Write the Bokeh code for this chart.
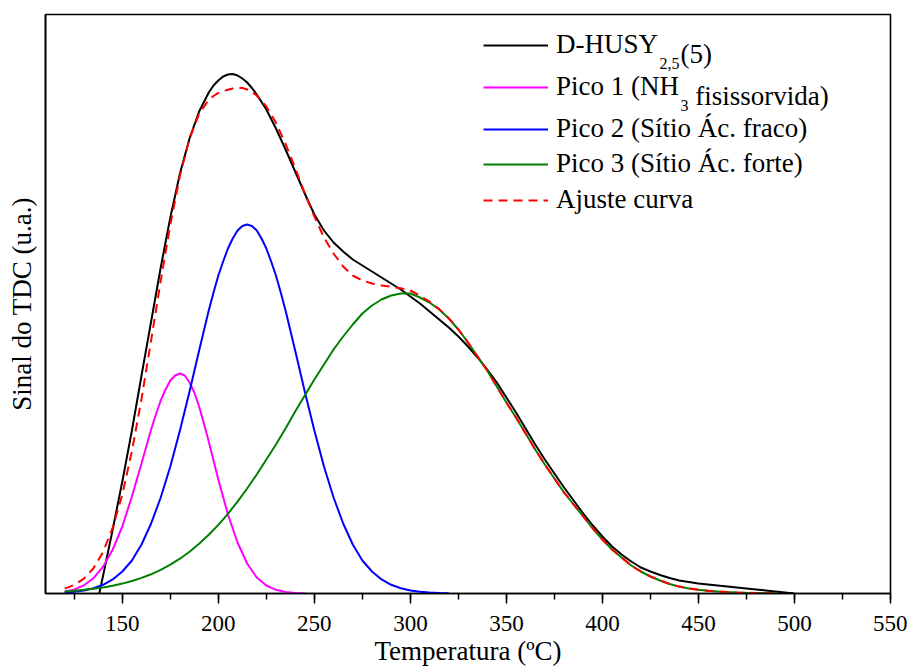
from bokeh.plotting import figure
from bokeh.models import Range1d, SingleIntervalTicker, FixedTicker, Legend, LegendItem, Label
from bokeh.embed import file_html
from bokeh.resources import INLINE

# ---------------- data ----------------
temp_exp = [138, 140, 145, 150, 155, 160, 165, 170, 175, 180, 185, 190, 195, 197.5, 200, 202.5,
            205, 207.5, 210, 212.5, 215, 217.5, 220, 225, 230, 235, 240, 245, 250, 255, 260, 265,
            270, 275, 280, 285, 290, 295, 300, 305, 310, 315, 320, 325, 330, 335, 340, 345,
            350, 355, 360, 365, 370, 375, 380, 385, 390, 395, 400, 405, 410, 415, 420, 425,
            430, 435, 440, 445, 450, 455, 460, 465, 470, 475, 480, 485, 490, 495, 500]
signal_exp = [0, 18, 64, 112, 163, 218, 272, 326, 376, 420, 455, 482, 501, 508, 513, 517,
              519, 519.5, 518, 515, 511, 505.5, 499, 484, 465, 444, 422, 400, 379, 363, 351, 342,
              334, 328, 322, 316, 310, 304, 297, 290, 282, 274, 266, 257, 247, 236, 224, 211,
              196, 181, 165, 149, 134, 120, 106, 93, 80, 68, 57, 47, 39, 32, 26, 22,
              18.5, 15.5, 13, 11.5, 10, 9, 8, 7, 6, 5, 4, 3, 2, 1, 0]

temp_p1 = [120, 125, 130, 135, 140, 145, 150, 155, 160, 162.5, 165, 167.5, 170, 172.5, 175, 177.5,
           180, 182.5, 185, 187.5, 190, 192.5, 195, 197.5, 200, 205, 210, 215, 220, 225, 230, 235,
           240, 245]
signal_p1 = [1.9, 4.1, 8.2, 15.3, 26.8, 44, 67, 97, 130, 147, 164, 179, 193, 204, 213, 218,
             220, 218, 211, 201, 187, 170, 152, 133, 114, 79, 51, 30, 16, 8, 3.7, 1.6,
             0.6, 0.2]

temp_p2 = [120, 125, 130, 135, 140, 145, 150, 155, 160, 165, 170, 175, 180, 185, 190, 195,
           197.5, 200, 202.5, 205, 207.5, 210, 212.5, 215, 217.5, 220, 222.5, 225, 227.5, 230, 232.5, 235,
           240, 245, 250, 255, 260, 265, 270, 275, 280, 285, 290, 295, 300, 305, 310, 315, 320]
signal_p2 = [0.9, 1.7, 3.0, 5.2, 8.7, 14.1, 22, 33, 49, 70, 96, 127, 163, 202, 243, 283,
             301, 318, 332, 345, 355, 363, 367.5, 369, 367.5, 363, 355, 345, 332, 318, 301, 283,
             243, 202, 163, 127, 96, 70, 49, 33, 22, 14.1, 8.7, 5.2, 3.0, 1.7, 0.9, 0.4, 0.2]

temp_p3 = [120, 125, 130, 135, 140, 145, 150, 155, 160, 165, 170, 175, 180, 185, 190, 195,
           200, 205, 210, 215, 220, 225, 230, 235, 240, 245, 250, 255, 260, 265, 270, 275,
           280, 285, 290, 295, 300, 305, 310, 315, 320, 325, 330, 335, 340, 345, 350, 355,
           360, 365, 370, 375, 380, 385, 390, 395, 400, 405, 410, 415, 420, 425, 430, 435,
           440, 445, 450, 455, 460, 465, 470, 475, 480, 485, 490]
signal_p3 = [2.1, 2.8, 3.7, 4.7, 6.1, 7.8, 9.9, 12.5, 15.6, 19.2, 23.7, 28.8, 34.8, 41.8, 49.7, 58.7,
             68.6, 79.7, 91.9, 105, 119, 134, 149, 165, 182, 198, 214, 229, 244, 257, 269, 280,
             288, 294, 298, 300, 300, 296, 291, 284, 275, 264, 251, 237, 223, 207, 191, 176,
             160, 144, 129, 115, 101, 89, 77, 65, 54, 44, 36, 28, 22, 17, 13, 9.5,
             6.9, 5.1, 3.7, 2.7, 2.0, 1.4, 1.0, 0.7, 0.5, 0.3, 0.2]

temp_fit = [120, 125, 130, 135, 140, 145, 150, 155, 160, 165, 170, 175, 180, 185, 190, 195,
            197.5, 200, 202.5, 205, 207.5, 210, 212.5, 215, 217.5, 220, 225, 230, 235, 240, 245, 250,
            255, 260, 265, 270, 275, 280, 285, 290, 295, 300, 305, 310, 315, 320, 325, 330,
            335, 340, 345, 350, 355, 360, 365, 370, 375, 380, 385, 390, 395, 400, 405, 410,
            415, 420, 425, 430, 435, 440, 445, 450, 455, 460, 465, 470, 475, 480, 485, 490]
signal_fit = [4.9, 8.6, 14.9, 25.2, 41.6, 65.9, 98.9, 142.5, 194.6, 253.2, 312.7, 368.8, 417.8, 454.8, 479.7, 493.7,
              497.5, 500.6, 502.5, 503.7, 505, 505.9, 505.5, 504, 501.5, 498, 487, 470.7, 449.6, 425.6, 400.2, 377,
              356, 340, 327, 318, 313, 310, 308, 306.7, 305.2, 303, 297.7, 291.9, 284.4, 275.2, 264, 251,
              237, 223, 207, 191, 176, 160, 144, 129, 115, 101, 89, 77, 65, 54, 44, 36,
              28, 22, 17, 13, 9.5, 6.9, 5.1, 3.7, 2.7, 2.0, 1.4, 1.0, 0.7, 0.5, 0.3, 0.2]

x_ticks_interval = 50
x_label = "Temperatura (ºC)"
y_label = "Sinal do TDC (u.a.)"
series_names = ["D-HUSY", "Pico 1 (NH", "Pico 2 (Sítio Ác. fraco)", "Pico 3 (Sítio Ác. forte)", "Ajuste curva"]

# ---------------- layout ----------------
FONT = "Liberation Serif"
X0, X1, Y0, Y1 = 110, 550, 0, 579
ORIGIN_X, ORIGIN_Y = 1, 0          # where the figure lands in the screenshot
B_LEFT, B_RIGHT, B_TOP, B_BOTTOM = 45, 17, 14, 79
FW, FH = 845, 579
W, H = B_LEFT + FW + B_RIGHT, B_TOP + FH + B_BOTTOM

p = figure(width=W, height=H, x_range=Range1d(X0, X1), y_range=Range1d(Y0, Y1),
           output_backend="svg", toolbar_location=None,
           min_border_left=B_LEFT, min_border_right=B_RIGHT, min_border_top=B_TOP, min_border_bottom=B_BOTTOM,
           background_fill_color="white", border_fill_color="white")
p.xgrid.visible = False
p.ygrid.visible = False
p.outline_line_color = "black"
p.outline_line_width = 1.6
p.outline_line_alpha = 1.0

xa = p.xaxis[0]
xa.ticker = SingleIntervalTicker(interval=x_ticks_interval, num_minor_ticks=2)
xa.axis_label = x_label
xa.axis_label_text_font = FONT
xa.axis_label_text_font_size = "27px"
xa.axis_label_text_font_style = "normal"
xa.axis_label_text_color = "black"
xa.axis_label_standoff = 2
xa.major_label_text_font = FONT
xa.major_label_text_font_size = "23px"
xa.major_label_text_color = "black"
xa.major_label_standoff = 12
xa.major_tick_out = 10
xa.major_tick_in = 0
xa.minor_tick_out = 6
xa.minor_tick_in = 0
xa.axis_line_width = 1.6
xa.major_tick_line_width = 1.5
xa.minor_tick_line_width = 1.5
xa.axis_line_color = "black"
xa.major_tick_line_color = "black"
xa.minor_tick_line_color = "black"

ya = p.yaxis[0]
ya.ticker = FixedTicker(ticks=[])
ya.axis_label = y_label
ya.axis_label_text_font = FONT
ya.axis_label_text_font_size = "27px"
ya.axis_label_text_font_style = "normal"
ya.axis_label_text_color = "black"
ya.axis_label_standoff = 9
ya.axis_line_width = 1.6
ya.axis_line_color = "black"
ya.major_tick_line_color = None
ya.minor_tick_line_color = None

r_exp = p.line(temp_exp, signal_exp, line_color="black", line_width=2)
r_p1 = p.line(temp_p1, signal_p1, line_color="#FF00FF", line_width=2)
r_p2 = p.line(temp_p2, signal_p2, line_color="#0000FF", line_width=2)
r_p3 = p.line(temp_p3, signal_p3, line_color="#008000", line_width=2)
r_fit = p.line(temp_fit, signal_fit, line_color="#FF0000", line_width=2, line_dash="9 6")

# ---------------- legend (one row per Legend, positioned in frame pixels) ----------------
frame_left_page = ORIGIN_X + B_LEFT
frame_bottom_page = ORIGIN_Y + B_TOP + FH
row_centers_page = [45, 87, 129, 164, 200]
glyph_w, standoff, row_h = 65, 8, 30
legend_x = 484 - frame_left_page
renderers = [r_exp, r_p1, r_p2, r_p3, r_fit]
LEG_FS = 27

for name, rend, cy in zip(series_names, renderers, row_centers_page):
    leg = Legend(items=[LegendItem(label=name, renderers=[rend])],
                 location=(legend_x, frame_bottom_page - (cy + row_h / 2)),
                 padding=0, margin=0, spacing=0,
                 glyph_width=glyph_w, glyph_height=row_h, label_height=row_h,
                 label_standoff=standoff,
                 label_text_font=FONT, label_text_font_size=f"{LEG_FS}px", label_text_color="black",
                 border_line_color=None, background_fill_alpha=0)
    p.add_layout(leg)


def data_x(px):
    return X0 + (px - frame_left_page) * (X1 - X0) / FW


def data_y(py):
    return Y0 + (frame_bottom_page - py) * (Y1 - Y0) / FH


text_x = frame_left_page + legend_x + glyph_w + standoff   # page x where legend labels start
SUB_FS = 16
w_dhusy = 3.777 * LEG_FS
w_sub25 = 1.25 * SUB_FS
w_pico1 = 4.555 * LEG_FS
w_sub3 = 0.5 * SUB_FS
w_space = 0.25 * LEG_FS

extra = [
    ("2,5", text_x + w_dhusy + 1, row_centers_page[0] + 18, SUB_FS),
    ("(5)", text_x + w_dhusy + 1 + w_sub25 + 1, row_centers_page[0] + 8, LEG_FS),
    ("3", text_x + w_pico1 + 1, row_centers_page[1] + 18, SUB_FS),
    ("fisissorvida)", text_x + w_pico1 + 1 + w_sub3 + w_space, row_centers_page[1] + 8, LEG_FS),
]
for txt, px, py, fs in extra:
    p.add_layout(Label(x=data_x(px), y=data_y(py), text=txt, text_font=FONT, text_font_size=f"{fs}px",
                       text_color="black", text_align="left", text_baseline="alphabetic"))

open("out.html", "w").write(file_html(p, INLINE))
